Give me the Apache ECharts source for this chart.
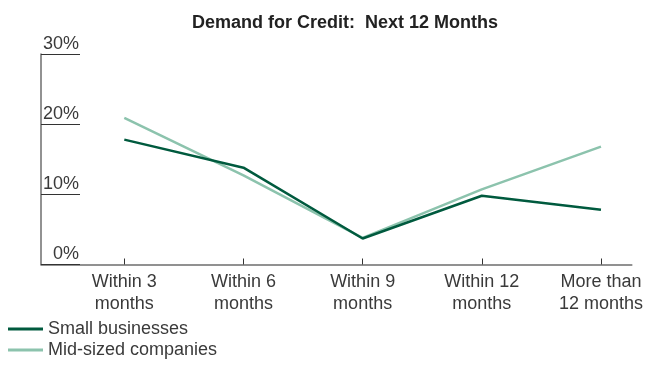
<!DOCTYPE html>
<html>
<head>
<meta charset="utf-8">
<script src="https://cdn.jsdelivr.net/npm/echarts@6/dist/echarts.min.js"></script>
<style>
  html, body { margin: 0; padding: 0; background: #fff; }
  #chart { width: 646px; height: 365px; }
</style>
</head>
<body>
<div id="chart"></div>
<script>
// Survey: share of firms expecting to need credit, by time horizon
const categories = ['Within 3\nmonths', 'Within 6\nmonths', 'Within 9\nmonths', 'Within 12\nmonths', 'More than\n12 months'];
const smallBusinesses = [17.8, 13.8, 3.7, 9.8, 7.8];
const midSizedCompanies = [20.9, 12.7, 3.8, 10.7, 16.8];
const yTicks = [0, 10, 20, 30];

const darkGreen = '#005a3e';
const lightGreen = '#8cc3ad';
const axisGray = '#6e6e6e';
const textGray = '#3a3a3a';
const font = '"Liberation Sans", Arial, sans-serif';

const toPoints = vals => vals.map((v, i) => [i, v]);
const catIdx = categories.map((_, i) => i);

const legendBase = {
  left: 8,
  padding: 0,
  icon: 'rect',
  itemWidth: 35,
  itemHeight: 3,
  textStyle: { fontFamily: font, fontSize: 18, color: textGray }
};

const chart = echarts.init(document.getElementById('chart'), null, { renderer: 'canvas' });
chart.setOption({
  animation: false,
  backgroundColor: '#fff',
  textStyle: { fontFamily: font },
  title: {
    text: 'Demand for Credit:  Next 12 Months',
    left: 340,
    top: 9,
    textAlign: 'center',
    textStyle: { fontFamily: font, fontSize: 18, fontWeight: 'bold', color: '#222' }
  },
  legend: [
    Object.assign({}, legendBase, { top: 320, data: ['Small businesses'] }),
    Object.assign({}, legendBase, { top: 341, data: ['Mid-sized companies'] })
  ],
  grid: { left: 41, right: 13, top: 54, bottom: 100.5, containLabel: false },
  xAxis: {
    type: 'value',
    min: -0.699,
    max: 4.259,
    splitLine: { show: false },
    axisLine: { show: true, onZero: false, lineStyle: { color: axisGray, width: 1.5 } },
    axisTick: { show: true, inside: true, length: 6, customValues: catIdx, lineStyle: { color: '#333', width: 1 } },
    axisLabel: {
      customValues: catIdx,
      formatter: v => categories[Math.round(v)],
      fontFamily: font,
      fontSize: 18,
      lineHeight: 22,
      color: textGray,
      margin: 7
    }
  },
  yAxis: {
    type: 'value',
    min: 0,
    max: 30,
    interval: 10,
    splitLine: { show: false },
    axisLine: { show: true, onZero: false, lineStyle: { color: axisGray, width: 1.5 } },
    axisTick: { show: true, inside: true, length: 39, customValues: yTicks, lineStyle: { color: '#333', width: 1 } },
    axisLabel: {
      inside: true,
      customValues: yTicks,
      margin: 38,
      align: 'right',
      verticalAlign: 'bottom',
      padding: [0, 0, 1, 0],
      formatter: v => v + '%',
      fontFamily: font,
      fontSize: 18,
      color: textGray
    }
  },
  series: [
    {
      name: 'Small businesses',
      type: 'line',
      data: toPoints(smallBusinesses),
      symbol: 'none',
      z: 3,
      lineStyle: { color: darkGreen, width: 2.5 },
      itemStyle: { color: darkGreen }
    },
    {
      name: 'Mid-sized companies',
      type: 'line',
      data: toPoints(midSizedCompanies),
      symbol: 'none',
      z: 2,
      lineStyle: { color: lightGreen, width: 2.5 },
      itemStyle: { color: lightGreen }
    }
  ]
});
</script>
</body>
</html>
